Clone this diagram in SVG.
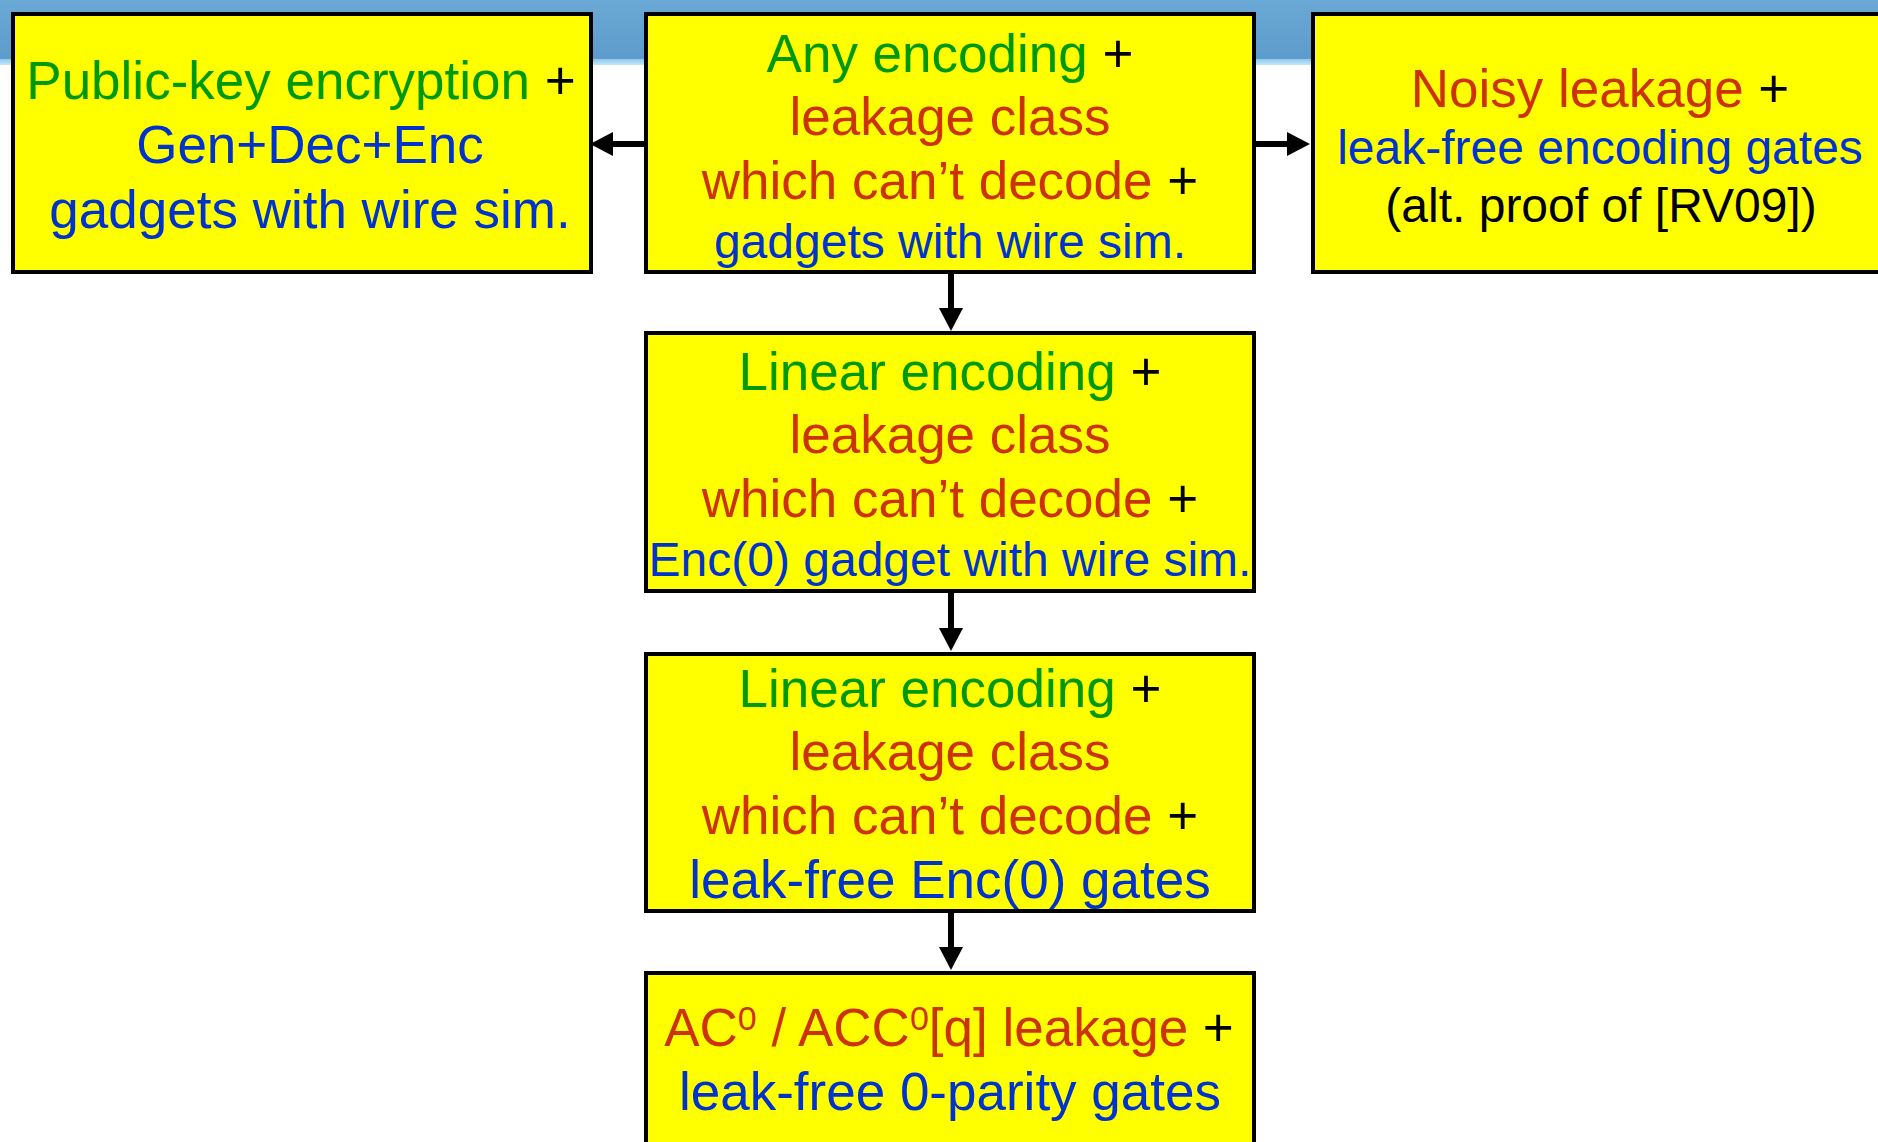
<svg xmlns="http://www.w3.org/2000/svg" width="1878" height="1142" viewBox="0 0 1878 1142">
  <defs>
    <linearGradient id="band" x1="0" y1="0" x2="0" y2="1">
      <stop offset="0" stop-color="#6aa8d5"/>
      <stop offset="1" stop-color="#5d9bcc"/>
    </linearGradient>
    <linearGradient id="bandEdge" x1="0" y1="0" x2="0" y2="1">
      <stop offset="0" stop-color="#8cc9f0"/>
      <stop offset="1" stop-color="#c4e6fa"/>
    </linearGradient>
    <marker id="arrow" viewBox="0 0 23 24" refX="1" refY="12" markerWidth="23" markerHeight="24" markerUnits="userSpaceOnUse" orient="auto">
      <path d="M0,0 L23,12 L0,24 Z" fill="#000"/>
    </marker>
  </defs>
  <style>
    .box { fill: #ffff00; stroke: #000; stroke-width: 4; }
    .edge { stroke: #000; stroke-width: 6; fill: none; marker-end: url(#arrow); }
    text { font-family: "Liberation Sans", Arial, sans-serif; font-size: 53px; text-anchor: middle; }
    .sm { font-size: 48px; }
    .g { fill: #009900; }
    .r { fill: #cc3300; }
    .b { fill: #0033cc; }
    .k { fill: #000; }
  </style>

  <!-- page background and title band -->
  <rect x="0" y="0" width="1878" height="1142" fill="#ffffff"/>
  <rect x="0" y="0" width="1878" height="59" fill="url(#band)"/>
  <rect x="0" y="59" width="1878" height="6" fill="url(#bandEdge)"/>

  <!-- connectors -->
  <g id="connectors">
    <line class="edge" x1="644" y1="144" x2="612" y2="144"/>
    <line class="edge" x1="1256" y1="144" x2="1288" y2="144"/>
    <line class="edge" x1="951" y1="273" x2="951" y2="309"/>
    <line class="edge" x1="951" y1="593" x2="951" y2="629"/>
    <line class="edge" x1="951" y1="913" x2="951" y2="948"/>
  </g>

  <g id="node-pke">
    <rect class="box" x="13" y="14" width="578" height="258"/>
    <text x="301" y="99"><tspan class="g">Public-key encryption</tspan><tspan class="k"> +</tspan></text>
    <text x="310" y="163" class="b">Gen+Dec+Enc</text>
    <text x="310" y="228" class="b">gadgets with wire sim.</text>
  </g>

  <g id="node-any">
    <rect class="box" x="646" y="14" width="608" height="258"/>
    <text x="950" y="72"><tspan class="g">Any encoding</tspan><tspan class="k"> +</tspan></text>
    <text x="950" y="135" class="r">leakage class</text>
    <text x="950" y="199"><tspan class="r">which can’t decode</tspan><tspan class="k"> +</tspan></text>
    <text x="950" y="258" class="b sm">gadgets with wire sim.</text>
  </g>

  <g id="node-noisy">
    <rect class="box" x="1313" y="14" width="578" height="258"/>
    <text x="1600" y="107"><tspan class="r">Noisy leakage</tspan><tspan class="k"> +</tspan></text>
    <text x="1600" y="164" class="b sm">leak-free encoding gates</text>
    <text x="1601" y="222" class="k sm">(alt. proof of [RV09])</text>
  </g>

  <g id="node-linear-gadget">
    <rect class="box" x="646" y="333" width="608" height="258"/>
    <text x="950" y="390"><tspan class="g">Linear encoding</tspan><tspan class="k"> +</tspan></text>
    <text x="950" y="453" class="r">leakage class</text>
    <text x="950" y="517"><tspan class="r">which can’t decode</tspan><tspan class="k"> +</tspan></text>
    <text x="950" y="576" class="b sm">Enc(0) gadget with wire sim.</text>
  </g>

  <g id="node-linear-gates">
    <rect class="box" x="646" y="654" width="608" height="257"/>
    <text x="950" y="707"><tspan class="g">Linear encoding</tspan><tspan class="k"> +</tspan></text>
    <text x="950" y="770" class="r">leakage class</text>
    <text x="950" y="834"><tspan class="r">which can’t decode</tspan><tspan class="k"> +</tspan></text>
    <text x="950" y="898" class="b">leak-free Enc(0) gates</text>
  </g>

  <g id="node-ac0">
    <rect class="box" x="646" y="973" width="608" height="200"/>
    <text x="949" y="1046"><tspan class="r">AC</tspan><tspan class="r" font-size="34" dy="-16">0</tspan><tspan class="r" dy="16"> / ACC</tspan><tspan class="r" font-size="34" dy="-16">0</tspan><tspan class="r" dy="16">[q] leakage</tspan><tspan class="k"> +</tspan></text>
    <text x="950" y="1110" class="b">leak-free 0-parity gates</text>
  </g>
</svg>
